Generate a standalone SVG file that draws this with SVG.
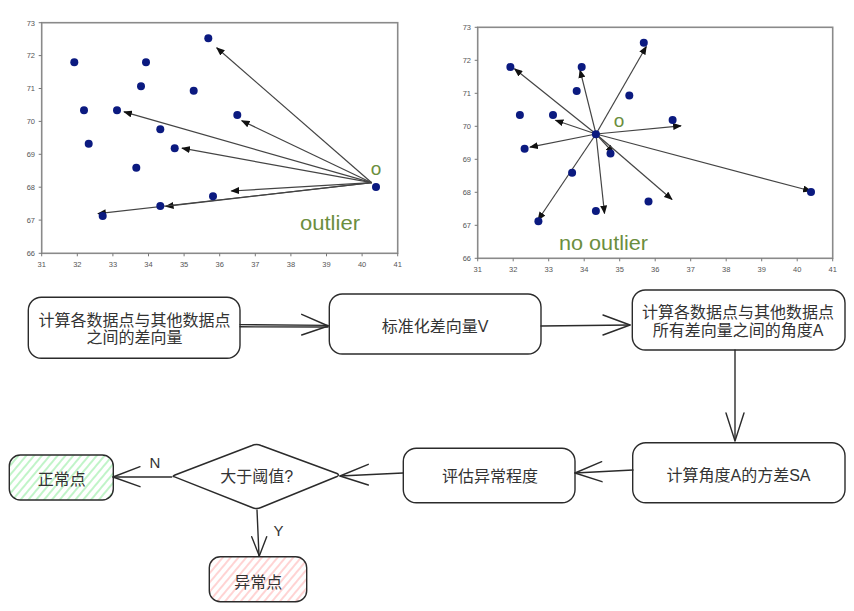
<svg xmlns="http://www.w3.org/2000/svg" width="854" height="611" viewBox="0 0 854 611">
<defs>
<marker id="tri" viewBox="0 0 10 8" refX="9" refY="4" markerWidth="9" markerHeight="7" markerUnits="userSpaceOnUse" orient="auto">
<path d="M0,0 L10,4 L0,8 z" fill="#111"/>
</marker>
<pattern id="hatchG" width="6" height="6" patternUnits="userSpaceOnUse" patternTransform="rotate(40)">
<rect width="6" height="6" fill="#ffffff"/>
<line x1="1" y1="0" x2="1" y2="6" stroke="#b2f2bb" stroke-width="1.6"/>
</pattern>
<pattern id="hatchR" width="6" height="6" patternUnits="userSpaceOnUse" patternTransform="rotate(40)">
<rect width="6" height="6" fill="#ffffff"/>
<line x1="1" y1="0" x2="1" y2="6" stroke="#ffc9c9" stroke-width="1.6"/>
</pattern>
</defs>
<style>
.frame{fill:#fff;stroke:#8a8a8a;stroke-width:1.6}
.tick{stroke:#777;stroke-width:1}
.tl{font-family:"Liberation Sans",Arial,sans-serif;font-size:7.5px;fill:#555}
.dot{fill:#0b1a80}
.vec{stroke:#444;stroke-width:1.2;fill:none;marker-end:url(#tri)}
.grn{font-family:"Liberation Sans",Arial,sans-serif;fill:#6b8e3e}
.box{fill:#fff;stroke:#2b2b2b;stroke-width:1.4}
.t{font-family:"Liberation Sans","Noto Sans CJK SC",sans-serif;font-size:16px;fill:#333;text-anchor:middle}
.lbl{font-family:"Liberation Sans","Noto Sans CJK SC",sans-serif;font-size:15px;fill:#333;text-anchor:middle}
.ed{stroke:#2b2b2b;stroke-width:1.4;fill:none;stroke-linecap:round;stroke-linejoin:round}
</style>

<!-- Plot 1 -->
<g id="plot1">
<rect class="frame" x="41.7" y="22.7" width="356" height="230.6"/>
<g class="tick">
<path d="M41.7,253.3v3 M77.3,253.3v3 M112.9,253.3v3 M148.5,253.3v3 M184.1,253.3v3 M219.7,253.3v3 M255.3,253.3v3 M290.9,253.3v3 M326.5,253.3v3 M362.1,253.3v3 M397.7,253.3v3"/>
<path d="M41.7,22.7h-3 M41.7,55.6h-3 M41.7,88.5h-3 M41.7,121.4h-3 M41.7,154.3h-3 M41.7,187.2h-3 M41.7,220.1h-3 M41.7,253.3h-3"/>
</g>
<g class="tl" text-anchor="middle">
<text x="41.7" y="267">31</text><text x="77.3" y="267">32</text><text x="112.9" y="267">33</text><text x="148.5" y="267">34</text><text x="184.1" y="267">35</text><text x="219.7" y="267">36</text><text x="255.3" y="267">37</text><text x="290.9" y="267">38</text><text x="326.5" y="267">39</text><text x="362.1" y="267">40</text><text x="397.7" y="267">41</text>
</g>
<g class="tl" text-anchor="end">
<text x="35" y="25.5">73</text><text x="35" y="58.4">72</text><text x="35" y="91.3">71</text><text x="35" y="124.2">70</text><text x="35" y="157.1">69</text><text x="35" y="190">68</text><text x="35" y="222.9">67</text><text x="35" y="256">66</text>
</g>
<g>
<line class="vec" x1="371.7" y1="182.7" x2="216.7" y2="47.7"/>
<line class="vec" x1="371.7" y1="182.7" x2="241.7" y2="120.7"/>
<line class="vec" x1="371.7" y1="182.7" x2="124" y2="111.8"/>
<line class="vec" x1="371.7" y1="182.7" x2="182" y2="148.2"/>
<line class="vec" x1="371.7" y1="182.7" x2="231.3" y2="191"/>
<line class="vec" x1="371.7" y1="182.7" x2="165.7" y2="206.3"/>
<line class="vec" x1="371.7" y1="182.7" x2="98" y2="213.6"/>
</g>
<g class="dot">
<circle cx="74.3" cy="62.3" r="4"/><circle cx="208.3" cy="38.3" r="4"/><circle cx="146" cy="62.3" r="4"/><circle cx="141" cy="86.3" r="4"/><circle cx="193.7" cy="90.7" r="4"/><circle cx="84" cy="110.3" r="4"/><circle cx="117" cy="110.3" r="4"/><circle cx="237.3" cy="115" r="4"/><circle cx="160.3" cy="129.3" r="4"/><circle cx="88.7" cy="143.7" r="4"/><circle cx="174.7" cy="148.3" r="4"/><circle cx="136.3" cy="167.7" r="4"/><circle cx="376" cy="187" r="4"/><circle cx="213" cy="196.3" r="4"/><circle cx="160.3" cy="206" r="4"/><circle cx="102.7" cy="216" r="4"/>
</g>
<text class="grn" x="376" y="175" font-size="19" text-anchor="middle">o</text>
<text class="grn" x="300" y="230" font-size="20" textLength="60" lengthAdjust="spacingAndGlyphs">outlier</text>
</g>

<!-- Plot 2 -->
<g id="plot2">
<rect class="frame" x="477.7" y="27.3" width="355" height="231"/>
<g class="tick">
<path d="M477.7,258.3v3 M513.2,258.3v3 M548.7,258.3v3 M584.2,258.3v3 M619.7,258.3v3 M655.2,258.3v3 M690.7,258.3v3 M726.2,258.3v3 M761.7,258.3v3 M797.2,258.3v3 M832.7,258.3v3"/>
<path d="M477.7,27.3h-3 M477.7,60.3h-3 M477.7,93.3h-3 M477.7,126.3h-3 M477.7,159.3h-3 M477.7,192.3h-3 M477.7,225.3h-3 M477.7,258.3h-3"/>
</g>
<g class="tl" text-anchor="middle">
<text x="477.7" y="272">31</text><text x="513.2" y="272">32</text><text x="548.7" y="272">33</text><text x="584.2" y="272">34</text><text x="619.7" y="272">35</text><text x="655.2" y="272">36</text><text x="690.7" y="272">37</text><text x="726.2" y="272">38</text><text x="761.7" y="272">39</text><text x="797.2" y="272">40</text><text x="832.7" y="272">41</text>
</g>
<g class="tl" text-anchor="end">
<text x="471" y="30">73</text><text x="471" y="63">72</text><text x="471" y="96">71</text><text x="471" y="129">70</text><text x="471" y="162">69</text><text x="471" y="195">68</text><text x="471" y="228">67</text><text x="471" y="261">66</text>
</g>
<g>
<line class="vec" x1="596" y1="134" x2="514.5" y2="68.8"/>
<line class="vec" x1="596" y1="134" x2="580" y2="70"/>
<line class="vec" x1="596" y1="134" x2="646.3" y2="46.5"/>
<line class="vec" x1="596" y1="134" x2="555.5" y2="120.2"/>
<line class="vec" x1="596" y1="134" x2="530" y2="147.2"/>
<line class="vec" x1="596" y1="134" x2="681" y2="125.8"/>
<line class="vec" x1="596" y1="134" x2="613.5" y2="153"/>
<line class="vec" x1="596" y1="134" x2="538" y2="220"/>
<line class="vec" x1="596" y1="134" x2="604.5" y2="213.5"/>
<line class="vec" x1="596" y1="134" x2="672" y2="199.5"/>
<line class="vec" x1="596" y1="134" x2="811" y2="191"/>
</g>
<g class="dot">
<circle cx="510.4" cy="66.9" r="4"/><circle cx="643.8" cy="42.8" r="4"/><circle cx="581.7" cy="66.9" r="4"/><circle cx="576.7" cy="91" r="4"/><circle cx="629.3" cy="95.6" r="4"/><circle cx="519.9" cy="115.1" r="4"/><circle cx="553" cy="115.1" r="4"/><circle cx="672.6" cy="120" r="4"/><circle cx="595.9" cy="134.2" r="4"/><circle cx="524.6" cy="148.7" r="4"/><circle cx="610.5" cy="153.4" r="4"/><circle cx="572.1" cy="172.8" r="4"/><circle cx="811" cy="192" r="4"/><circle cx="648.5" cy="201.5" r="4"/><circle cx="595.9" cy="211.1" r="4"/><circle cx="538.4" cy="221.3" r="4"/>
</g>
<text class="grn" x="619" y="127" font-size="19" text-anchor="middle">o</text>
<text class="grn" x="559" y="250" font-size="20" textLength="89" lengthAdjust="spacingAndGlyphs">no outlier</text>
</g>

<!-- Flowchart nodes -->
<g id="n1">
<rect class="box" x="28.3" y="297.3" width="211.7" height="61" rx="13"/>
<text class="t" x="134.5" y="326">计算各数据点与其他数据点</text>
<text class="t" x="134.5" y="343">之间的差向量</text>
</g>
<g id="n2">
<rect class="box" x="329.3" y="294" width="211.7" height="60" rx="13"/>
<text class="t" x="435" y="332">标准化差向量V</text>
</g>
<g id="n3">
<rect class="box" x="632.3" y="290" width="212.7" height="60" rx="13"/>
<text class="t" x="738" y="318">计算各数据点与其他数据点</text>
<text class="t" x="738" y="336">所有差向量之间的角度A</text>
</g>
<g id="n4">
<rect class="box" x="632.7" y="442.7" width="212.3" height="60" rx="13"/>
<text class="t" x="738.5" y="481">计算角度A的方差SA</text>
</g>
<g id="n5">
<rect class="box" x="403.3" y="448.3" width="171.7" height="54.4" rx="13"/>
<text class="t" x="490" y="481.5">评估异常程度</text>
</g>
<g id="n6">
<path class="box" d="M174,476.7 Q172,476.5 175,475 L252,445.5 Q256.7,443.5 261,445.5 L337,473.5 Q340,475 337,476.5 L261,507.5 Q256.7,509.5 252,507.5 Z"/>
<text class="t" x="256.7" y="482">大于阈值?</text>
</g>
<g id="n7">
<rect x="9.3" y="455" width="104" height="45" rx="11" fill="url(#hatchG)" stroke="#2b2b2b" stroke-width="1.4"/>
<text class="t" x="61.7" y="485">正常点</text>
</g>
<g id="n8">
<rect x="209.3" y="556.7" width="97.4" height="45" rx="11" fill="url(#hatchR)" stroke="#2b2b2b" stroke-width="1.4"/>
<text class="t" x="258.3" y="588">异常点</text>
</g>

<!-- Connectors -->
<g id="edges">
<path class="ed" d="M240,324.6 L328,325.4 M240,326.8 L328,327"/>
<path class="ed" d="M301.7,314.3 L328.3,326 L301.7,335"/>
<path class="ed" d="M541,326 L630,325"/>
<path class="ed" d="M603,315 L630,325 L603,335"/>
<path class="ed" d="M735,350 L735,440"/>
<path class="ed" d="M726,413 L735,441 L744,413"/>
<path class="ed" d="M633,470 L575,473"/>
<path class="ed" d="M601.7,461.7 L575,473 L602,481.7"/>
<path class="ed" d="M403,473 L340,476"/>
<path class="ed" d="M368.3,464.3 L340,476 L368.3,485"/>
<path class="ed" d="M171.7,477 L113,477"/>
<path class="ed" d="M140,466.7 L113,477 L140,486.7"/>
<path class="ed" d="M257,510 L259,556"/>
<path class="ed" d="M251.7,536.7 L259.3,556 L266.7,536.7"/>
<text class="lbl" x="155" y="468">N</text>
<text class="lbl" x="278.5" y="536">Y</text>
</g>
</svg>
